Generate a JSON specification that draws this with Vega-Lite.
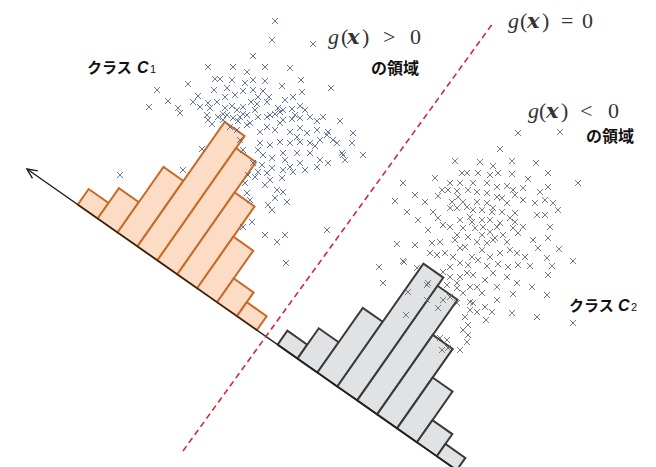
{
  "$schema": "https://vega.github.io/schema/vega-lite/v6.json",
  "width": 656,
  "height": 467,
  "autosize": {"type": "fit", "contains": "padding"},
  "padding": 0,
  "background": "white",
  "config": {"view": {"stroke": null}},
  "datasets": {
    "bins": [
      {"cls": "C1", "t": 62.0, "count": 19},
      {"cls": "C1", "t": 86.3, "count": 37},
      {"cls": "C1", "t": 110.6, "count": 80},
      {"cls": "C1", "t": 134.9, "count": 152},
      {"cls": "C1", "t": 159.2, "count": 137},
      {"cls": "C1", "t": 183.5, "count": 100},
      {"cls": "C1", "t": 207.8, "count": 63},
      {"cls": "C1", "t": 232.1, "count": 29},
      {"cls": "C1", "t": 256.4, "count": 17},
      {"cls": "C2", "t": 306.0, "count": 17},
      {"cls": "C2", "t": 330.3, "count": 37},
      {"cls": "C2", "t": 354.6, "count": 79},
      {"cls": "C2", "t": 378.9, "count": 150},
      {"cls": "C2", "t": 403.2, "count": 140},
      {"cls": "C2", "t": 427.5, "count": 97},
      {"cls": "C2", "t": 451.8, "count": 62},
      {"cls": "C2", "t": 476.1, "count": 27},
      {"cls": "C2", "t": 500.4, "count": 15}
    ],
    "projection": [{"t": 0}, {"t": 560}],
    "boundary": [{"x": 183, "y": 451, "k": 0}, {"x": 493, "y": 23, "k": 1}],
    "samples": [
      {"cls":"C1","x":275,"y":21},{"cls":"C1","x":272,"y":40},{"cls":"C1","x":313,"y":44},{"cls":"C1","x":253,"y":56},
      {"cls":"C1","x":208,"y":67},{"cls":"C1","x":233,"y":67},{"cls":"C1","x":247,"y":72},{"cls":"C1","x":265,"y":67},
      {"cls":"C1","x":290,"y":68},{"cls":"C1","x":188,"y":84},{"cls":"C1","x":215,"y":79},{"cls":"C1","x":220,"y":79},
      {"cls":"C1","x":232,"y":80},{"cls":"C1","x":245,"y":83},{"cls":"C1","x":253,"y":80},{"cls":"C1","x":265,"y":81},
      {"cls":"C1","x":282,"y":86},{"cls":"C1","x":301,"y":80},{"cls":"C1","x":331,"y":88},{"cls":"C1","x":157,"y":90},
      {"cls":"C1","x":168,"y":101},{"cls":"C1","x":149,"y":107},{"cls":"C1","x":178,"y":108},{"cls":"C1","x":180,"y":113},
      {"cls":"C1","x":193,"y":102},{"cls":"C1","x":198,"y":96},{"cls":"C1","x":214,"y":90},{"cls":"C1","x":227,"y":88},
      {"cls":"C1","x":225,"y":97},{"cls":"C1","x":243,"y":91},{"cls":"C1","x":253,"y":90},{"cls":"C1","x":263,"y":91},
      {"cls":"C1","x":269,"y":97},{"cls":"C1","x":293,"y":97},{"cls":"C1","x":302,"y":92},{"cls":"C1","x":208,"y":103},
      {"cls":"C1","x":217,"y":102},{"cls":"C1","x":210,"y":108},{"cls":"C1","x":207,"y":115},{"cls":"C1","x":225,"y":108},
      {"cls":"C1","x":232,"y":106},{"cls":"C1","x":237,"y":110},{"cls":"C1","x":243,"y":107},{"cls":"C1","x":251,"y":102},
      {"cls":"C1","x":257,"y":104},{"cls":"C1","x":267,"y":102},{"cls":"C1","x":278,"y":108},{"cls":"C1","x":292,"y":109},
      {"cls":"C1","x":300,"y":106},{"cls":"C1","x":305,"y":110},{"cls":"C1","x":275,"y":114},{"cls":"C1","x":227,"y":115},
      {"cls":"C1","x":240,"y":117},{"cls":"C1","x":247,"y":115},{"cls":"C1","x":238,"y":121},{"cls":"C1","x":258,"y":117},
      {"cls":"C1","x":267,"y":117},{"cls":"C1","x":283,"y":120},{"cls":"C1","x":292,"y":119},{"cls":"C1","x":300,"y":118},
      {"cls":"C1","x":310,"y":117},{"cls":"C1","x":317,"y":121},{"cls":"C1","x":340,"y":121},{"cls":"C1","x":212,"y":124},
      {"cls":"C1","x":200,"y":107},{"cls":"C1","x":208,"y":120},{"cls":"C1","x":218,"y":117},{"cls":"C1","x":223,"y":120},
      {"cls":"C1","x":223,"y":114},{"cls":"C1","x":233,"y":118},{"cls":"C1","x":243,"y":114},{"cls":"C1","x":270,"y":115},
      {"cls":"C1","x":280,"y":112},{"cls":"C1","x":353,"y":133},{"cls":"C1","x":352,"y":143},{"cls":"C1","x":363,"y":155},
      {"cls":"C1","x":343,"y":155},{"cls":"C1","x":345,"y":160},{"cls":"C1","x":250,"y":123},{"cls":"C1","x":260,"y":132},
      {"cls":"C1","x":267,"y":127},{"cls":"C1","x":280,"y":123},{"cls":"C1","x":290,"y":132},{"cls":"C1","x":300,"y":128},
      {"cls":"C1","x":307,"y":133},{"cls":"C1","x":317,"y":130},{"cls":"C1","x":327,"y":135},{"cls":"C1","x":333,"y":140},
      {"cls":"C1","x":320,"y":140},{"cls":"C1","x":310,"y":143},{"cls":"C1","x":300,"y":142},{"cls":"C1","x":290,"y":143},
      {"cls":"C1","x":280,"y":142},{"cls":"C1","x":270,"y":145},{"cls":"C1","x":260,"y":143},{"cls":"C1","x":258,"y":150},
      {"cls":"C1","x":263,"y":155},{"cls":"C1","x":272,"y":158},{"cls":"C1","x":283,"y":153},{"cls":"C1","x":297,"y":153},
      {"cls":"C1","x":310,"y":153},{"cls":"C1","x":320,"y":160},{"cls":"C1","x":328,"y":163},{"cls":"C1","x":317,"y":167},
      {"cls":"C1","x":300,"y":163},{"cls":"C1","x":290,"y":167},{"cls":"C1","x":283,"y":170},{"cls":"C1","x":293,"y":172},
      {"cls":"C1","x":272,"y":168},{"cls":"C1","x":267,"y":173},{"cls":"C1","x":258,"y":172},{"cls":"C1","x":255,"y":177},
      {"cls":"C1","x":270,"y":180},{"cls":"C1","x":282,"y":178},{"cls":"C1","x":265,"y":185},{"cls":"C1","x":277,"y":190},
      {"cls":"C1","x":283,"y":192},{"cls":"C1","x":287,"y":202},{"cls":"C1","x":275,"y":198},{"cls":"C1","x":268,"y":205},
      {"cls":"C1","x":272,"y":210},{"cls":"C1","x":247,"y":193},{"cls":"C1","x":250,"y":200},{"cls":"C1","x":245,"y":183},
      {"cls":"C1","x":248,"y":175},{"cls":"C1","x":253,"y":163},{"cls":"C1","x":252,"y":222},{"cls":"C1","x":265,"y":235},
      {"cls":"C1","x":277,"y":242},{"cls":"C1","x":285,"y":235},{"cls":"C1","x":327,"y":230},{"cls":"C1","x":243,"y":227},
      {"cls":"C1","x":202,"y":149},{"cls":"C1","x":120,"y":175},{"cls":"C1","x":183,"y":170},{"cls":"C1","x":243,"y":150},
      {"cls":"C1","x":286,"y":263},{"cls":"C1","x":283,"y":110},{"cls":"C1","x":323,"y":117},{"cls":"C1","x":328,"y":132},
      {"cls":"C1","x":337,"y":143},{"cls":"C1","x":342,"y":153},
      {"cls":"C1","x":235,"y":95},{"cls":"C1","x":258,"y":97},{"cls":"C1","x":285,"y":100},{"cls":"C1","x":247,"y":125},
      {"cls":"C1","x":237,"y":130},{"cls":"C1","x":275,"y":130},{"cls":"C1","x":297,"y":137},{"cls":"C1","x":285,"y":160},
      {"cls":"C1","x":305,"y":170},{"cls":"C1","x":262,"y":165},{"cls":"C1","x":240,"y":140},{"cls":"C1","x":230,"y":127},
      {"cls":"C1","x":315,"y":146},{"cls":"C1","x":295,"y":115},{"cls":"C1","x":255,"y":110},
      {"cls":"C2","x":500,"y":149},{"cls":"C2","x":455,"y":161},{"cls":"C2","x":480,"y":162},{"cls":"C2","x":493,"y":166},
      {"cls":"C2","x":512,"y":161},{"cls":"C2","x":536,"y":163},{"cls":"C2","x":548,"y":173},{"cls":"C2","x":578,"y":183},
      {"cls":"C2","x":462,"y":173},{"cls":"C2","x":467,"y":173},{"cls":"C2","x":478,"y":173},{"cls":"C2","x":490,"y":175},
      {"cls":"C2","x":498,"y":173},{"cls":"C2","x":512,"y":174},{"cls":"C2","x":528,"y":179},{"cls":"C2","x":435,"y":178},
      {"cls":"C2","x":403,"y":183},{"cls":"C2","x":450,"y":183},{"cls":"C2","x":460,"y":183},{"cls":"C2","x":473,"y":183},
      {"cls":"C2","x":487,"y":183},{"cls":"C2","x":497,"y":187},{"cls":"C2","x":507,"y":186},{"cls":"C2","x":513,"y":190},
      {"cls":"C2","x":523,"y":188},{"cls":"C2","x":540,"y":192},{"cls":"C2","x":548,"y":187},{"cls":"C2","x":442,"y":190},
      {"cls":"C2","x":448,"y":190},{"cls":"C2","x":468,"y":190},{"cls":"C2","x":477,"y":192},{"cls":"C2","x":415,"y":195},
      {"cls":"C2","x":438,"y":196},{"cls":"C2","x":458,"y":197},{"cls":"C2","x":497,"y":197},{"cls":"C2","x":515,"y":195},
      {"cls":"C2","x":523,"y":200},{"cls":"C2","x":535,"y":203},{"cls":"C2","x":545,"y":200},{"cls":"C2","x":553,"y":203},
      {"cls":"C2","x":395,"y":201},{"cls":"C2","x":425,"y":202},{"cls":"C2","x":452,"y":202},{"cls":"C2","x":463,"y":202},
      {"cls":"C2","x":477,"y":202},{"cls":"C2","x":487,"y":203},{"cls":"C2","x":507,"y":203},{"cls":"C2","x":558,"y":210},
      {"cls":"C2","x":433,"y":212},{"cls":"C2","x":450,"y":208},{"cls":"C2","x":457,"y":208},{"cls":"C2","x":473,"y":210},
      {"cls":"C2","x":482,"y":210},{"cls":"C2","x":492,"y":212},{"cls":"C2","x":502,"y":212},{"cls":"C2","x":515,"y":213},
      {"cls":"C2","x":537,"y":215},{"cls":"C2","x":545,"y":215},{"cls":"C2","x":407,"y":212},{"cls":"C2","x":418,"y":220},
      {"cls":"C2","x":438,"y":218},{"cls":"C2","x":460,"y":220},{"cls":"C2","x":472,"y":222},{"cls":"C2","x":490,"y":220},
      {"cls":"C2","x":500,"y":223},{"cls":"C2","x":515,"y":222},{"cls":"C2","x":523,"y":227},{"cls":"C2","x":533,"y":240},
      {"cls":"C2","x":548,"y":238},{"cls":"C2","x":550,"y":227},{"cls":"C2","x":443,"y":225},{"cls":"C2","x":450,"y":227},
      {"cls":"C2","x":457,"y":235},{"cls":"C2","x":463,"y":228},{"cls":"C2","x":475,"y":228},{"cls":"C2","x":483,"y":227},
      {"cls":"C2","x":490,"y":232},{"cls":"C2","x":495,"y":238},{"cls":"C2","x":503,"y":235},{"cls":"C2","x":513,"y":228},
      {"cls":"C2","x":518,"y":233},{"cls":"C2","x":428,"y":230},{"cls":"C2","x":455,"y":240},{"cls":"C2","x":465,"y":247},
      {"cls":"C2","x":477,"y":242},{"cls":"C2","x":487,"y":243},{"cls":"C2","x":493,"y":240},{"cls":"C2","x":510,"y":250},
      {"cls":"C2","x":517,"y":253},{"cls":"C2","x":525,"y":257},{"cls":"C2","x":538,"y":248},{"cls":"C2","x":547,"y":258},
      {"cls":"C2","x":559,"y":249},{"cls":"C2","x":552,"y":266},{"cls":"C2","x":573,"y":261},{"cls":"C2","x":397,"y":244},
      {"cls":"C2","x":415,"y":245},{"cls":"C2","x":432,"y":243},{"cls":"C2","x":440,"y":242},{"cls":"C2","x":445,"y":253},
      {"cls":"C2","x":430,"y":253},{"cls":"C2","x":437,"y":255},{"cls":"C2","x":403,"y":261},{"cls":"C2","x":379,"y":267},
      {"cls":"C2","x":383,"y":283},{"cls":"C2","x":450,"y":267},{"cls":"C2","x":460,"y":263},{"cls":"C2","x":468,"y":265},
      {"cls":"C2","x":478,"y":260},{"cls":"C2","x":487,"y":266},{"cls":"C2","x":498,"y":264},{"cls":"C2","x":508,"y":267},
      {"cls":"C2","x":518,"y":265},{"cls":"C2","x":530,"y":266},{"cls":"C2","x":548,"y":275},{"cls":"C2","x":450,"y":277},
      {"cls":"C2","x":460,"y":277},{"cls":"C2","x":473,"y":275},{"cls":"C2","x":485,"y":280},{"cls":"C2","x":497,"y":287},
      {"cls":"C2","x":517,"y":283},{"cls":"C2","x":532,"y":287},{"cls":"C2","x":547,"y":295},{"cls":"C2","x":447,"y":285},
      {"cls":"C2","x":457,"y":288},{"cls":"C2","x":470,"y":287},{"cls":"C2","x":477,"y":287},{"cls":"C2","x":513,"y":294},
      {"cls":"C2","x":428,"y":283},{"cls":"C2","x":408,"y":292},{"cls":"C2","x":427,"y":300},{"cls":"C2","x":438,"y":308},
      {"cls":"C2","x":450,"y":297},{"cls":"C2","x":463,"y":293},{"cls":"C2","x":473,"y":303},{"cls":"C2","x":477,"y":312},
      {"cls":"C2","x":485,"y":307},{"cls":"C2","x":492,"y":312},{"cls":"C2","x":486,"y":320},{"cls":"C2","x":465,"y":317},
      {"cls":"C2","x":468,"y":325},{"cls":"C2","x":463,"y":330},{"cls":"C2","x":468,"y":335},{"cls":"C2","x":467,"y":342},
      {"cls":"C2","x":460,"y":350},{"cls":"C2","x":447,"y":340},{"cls":"C2","x":442,"y":350},{"cls":"C2","x":448,"y":348},
      {"cls":"C2","x":512,"y":313},{"cls":"C2","x":537,"y":317},{"cls":"C2","x":573,"y":323},{"cls":"C2","x":457,"y":303},
      {"cls":"C2","x":443,"y":300},{"cls":"C2","x":404,"y":262},{"cls":"C2","x":417,"y":268},{"cls":"C2","x":427,"y":285},
      {"cls":"C2","x":406,"y":315},{"cls":"C2","x":440,"y":338},{"cls":"C2","x":470,"y":302},{"cls":"C2","x":457,"y":283},
      {"cls":"C2","x":518,"y":133},{"cls":"C2","x":560,"y":132},
      {"cls":"C2","x":457,"y":191},{"cls":"C2","x":487,"y":193},{"cls":"C2","x":502,"y":198},{"cls":"C2","x":467,"y":207},
      {"cls":"C2","x":493,"y":208},{"cls":"C2","x":510,"y":218},{"cls":"C2","x":470,"y":217},{"cls":"C2","x":482,"y":220},
      {"cls":"C2","x":497,"y":227},{"cls":"C2","x":468,"y":237},{"cls":"C2","x":482,"y":235},{"cls":"C2","x":507,"y":242},
      {"cls":"C2","x":460,"y":248},{"cls":"C2","x":482,"y":250},{"cls":"C2","x":500,"y":253},{"cls":"C2","x":453,"y":257},
      {"cls":"C2","x":472,"y":257},{"cls":"C2","x":490,"y":257},{"cls":"C2","x":443,"y":272},{"cls":"C2","x":467,"y":273},
      {"cls":"C2","x":493,"y":273},{"cls":"C2","x":507,"y":277},{"cls":"C2","x":482,"y":293},{"cls":"C2","x":497,"y":300},
      {"cls":"C2","x":470,"y":310}
    ]
  },
  "layer": [
    {
      "data": {"name": "bins"},
      "transform": [
        {"filter": "datum.cls == 'C1'"},
        {"calculate": "[0, 1, 2, 3, 4]", "as": "corner"},
        {"flatten": ["corner"]},
        {"calculate": "datum.t + (datum.corner == 2 || datum.corner == 3 ? 24.3 : 0)", "as": "s"},
        {"calculate": "datum.corner == 1 || datum.corner == 2 ? datum.count : 0", "as": "h"},
        {"calculate": "27 + 0.819 * datum.s + 0.574 * datum.h", "as": "x"},
        {"calculate": "169 + 0.574 * datum.s - 0.819 * datum.h", "as": "y"}
      ],
      "mark": {"type": "line", "fill": "#fddcc6", "stroke": "#c76b2a", "strokeWidth": 2, "strokeJoin": "miter"},
      "encoding": {
        "x": {"field": "x", "type": "quantitative", "scale": {"domain": [0, 656], "nice": false, "zero": false}, "axis": null},
        "y": {"field": "y", "type": "quantitative", "scale": {"domain": [0, 467], "nice": false, "zero": false, "reverse": true}, "axis": null},
        "detail": {"field": "t", "type": "nominal"},
        "order": {"field": "corner", "type": "quantitative"}
      }
    },
    {
      "data": {"name": "bins"},
      "transform": [
        {"filter": "datum.cls == 'C2'"},
        {"calculate": "[0, 1, 2, 3, 4]", "as": "corner"},
        {"flatten": ["corner"]},
        {"calculate": "datum.t + (datum.corner == 2 || datum.corner == 3 ? 24.3 : 0)", "as": "s"},
        {"calculate": "datum.corner == 1 || datum.corner == 2 ? datum.count : 0", "as": "h"},
        {"calculate": "27 + 0.819 * datum.s + 0.574 * datum.h", "as": "x"},
        {"calculate": "169 + 0.574 * datum.s - 0.819 * datum.h", "as": "y"}
      ],
      "mark": {"type": "line", "fill": "#e1e2e4", "stroke": "#3a3a3a", "strokeWidth": 2, "strokeJoin": "miter", "clip": true},
      "encoding": {
        "x": {"field": "x", "type": "quantitative", "axis": null},
        "y": {"field": "y", "type": "quantitative", "axis": null},
        "detail": {"field": "t", "type": "nominal"},
        "order": {"field": "corner", "type": "quantitative"}
      }
    },
    {
      "data": {"name": "projection"},
      "transform": [
        {"calculate": "27 + 0.819 * datum.t", "as": "x"},
        {"calculate": "169 + 0.574 * datum.t", "as": "y"}
      ],
      "mark": {"type": "line", "stroke": "#1e1e1e", "strokeWidth": 1.4, "clip": true},
      "encoding": {
        "x": {"field": "x", "type": "quantitative", "axis": null},
        "y": {"field": "y", "type": "quantitative", "axis": null},
        "order": {"field": "t", "type": "quantitative"}
      }
    },
    {
      "data": {"name": "projection"},
      "transform": [
        {"filter": "datum.t == 0"},
        {"calculate": "27 + 0.819 * datum.t", "as": "x"},
        {"calculate": "169 + 0.574 * datum.t", "as": "y"}
      ],
      "mark": {"type": "point", "shape": "M1.8,-0.84L0,0L1.8,0.84", "filled": false, "size": 121, "angle": 35, "stroke": "#1e1e1e", "strokeWidth": 1.4, "opacity": 1},
      "encoding": {
        "x": {"field": "x", "type": "quantitative", "axis": null},
        "y": {"field": "y", "type": "quantitative", "axis": null}
      }
    },
    {
      "data": {"name": "boundary"},
      "mark": {"type": "line", "stroke": "#cc2a3c", "strokeWidth": 1.6, "strokeDash": [6, 4]},
      "encoding": {
        "x": {"field": "x", "type": "quantitative", "axis": null},
        "y": {"field": "y", "type": "quantitative", "axis": null},
        "order": {"field": "k", "type": "quantitative"}
      }
    },
    {
      "data": {"name": "samples"},
      "mark": {"type": "point", "shape": "M-1,-1L1,1M-1,1L1,-1", "filled": false, "size": 36, "strokeWidth": 1, "opacity": 0.85},
      "encoding": {
        "x": {"field": "x", "type": "quantitative", "axis": null},
        "y": {"field": "y", "type": "quantitative", "axis": null},
        "color": {"field": "cls", "type": "nominal", "scale": {"domain": ["C1", "C2"], "range": ["#4f6196", "#666666"]}, "legend": null}
      }
    },
    {
      "data": {"values": [{"text": "クラス", "x": 87, "y": 73}, {"text": "クラス", "x": 569, "y": 311}]},
      "mark": {"type": "text", "font": "Noto Sans CJK JP", "fontSize": 15, "fontWeight": "bold", "align": "left", "baseline": "alphabetic", "color": "#111111"},
      "encoding": {
        "x": {"field": "x", "type": "quantitative", "axis": null},
        "y": {"field": "y", "type": "quantitative", "axis": null},
        "text": {"field": "text"}
      }
    },
    {
      "data": {"values": [{"text": "C", "x": 137, "y": 73}, {"text": "C", "x": 618, "y": 311}]},
      "mark": {"type": "text", "font": "Liberation Sans", "fontSize": 16, "fontStyle": "italic", "fontWeight": "bold", "align": "left", "baseline": "alphabetic", "color": "#111111"},
      "encoding": {
        "x": {"field": "x", "type": "quantitative", "axis": null},
        "y": {"field": "y", "type": "quantitative", "axis": null},
        "text": {"field": "text"}
      }
    },
    {
      "data": {"values": [{"text": "1", "x": 150, "y": 73}, {"text": "2", "x": 631, "y": 311}]},
      "mark": {"type": "text", "font": "Liberation Sans", "fontSize": 11, "align": "left", "baseline": "alphabetic", "color": "#111111"},
      "encoding": {
        "x": {"field": "x", "type": "quantitative", "axis": null},
        "y": {"field": "y", "type": "quantitative", "axis": null},
        "text": {"field": "text"}
      }
    },
    {
      "data": {"values": [{"text": "の領域", "x": 371, "y": 74}, {"text": "の領域", "x": 586, "y": 142}]},
      "mark": {"type": "text", "font": "Noto Sans CJK JP", "fontSize": 16, "fontWeight": "bold", "align": "left", "baseline": "alphabetic", "color": "#111111"},
      "encoding": {
        "x": {"field": "x", "type": "quantitative", "axis": null},
        "y": {"field": "y", "type": "quantitative", "axis": null},
        "text": {"field": "text"}
      }
    },
    {
      "data": {"values": [{"text": "g", "x": 328, "y": 44}, {"text": "g", "x": 508, "y": 28}, {"text": "g", "x": 528, "y": 118}]},
      "mark": {"type": "text", "font": "Liberation Serif", "fontSize": 22, "fontStyle": "italic", "align": "left", "baseline": "alphabetic", "color": "#333333"},
      "encoding": {
        "x": {"field": "x", "type": "quantitative", "axis": null},
        "y": {"field": "y", "type": "quantitative", "axis": null},
        "text": {"field": "text"}
      }
    },
    {
      "data": {"values": [{"text": "x", "x": 347, "y": 44}, {"text": "x", "x": 527, "y": 28}, {"text": "x", "x": 546, "y": 118}]},
      "mark": {"type": "text", "font": "DejaVu Serif", "fontSize": 21, "fontStyle": "italic", "fontWeight": "bold", "align": "left", "baseline": "alphabetic", "color": "#333333"},
      "encoding": {
        "x": {"field": "x", "type": "quantitative", "axis": null},
        "y": {"field": "y", "type": "quantitative", "axis": null},
        "text": {"field": "text"}
      }
    },
    {
      "data": {"values": [
        {"text": "(", "x": 341, "y": 44}, {"text": ")", "x": 362, "y": 44}, {"text": ">", "x": 383, "y": 44}, {"text": "0", "x": 410, "y": 44},
        {"text": "(", "x": 520, "y": 28}, {"text": ")", "x": 542, "y": 28}, {"text": "=", "x": 561, "y": 28}, {"text": "0", "x": 582, "y": 28},
        {"text": "(", "x": 539, "y": 118}, {"text": ")", "x": 561, "y": 118}, {"text": "<", "x": 580, "y": 118}, {"text": "0", "x": 608, "y": 118}
      ]},
      "mark": {"type": "text", "font": "Liberation Serif", "fontSize": 22, "align": "left", "baseline": "alphabetic", "color": "#333333"},
      "encoding": {
        "x": {"field": "x", "type": "quantitative", "axis": null},
        "y": {"field": "y", "type": "quantitative", "axis": null},
        "text": {"field": "text"}
      }
    }
  ]
}
